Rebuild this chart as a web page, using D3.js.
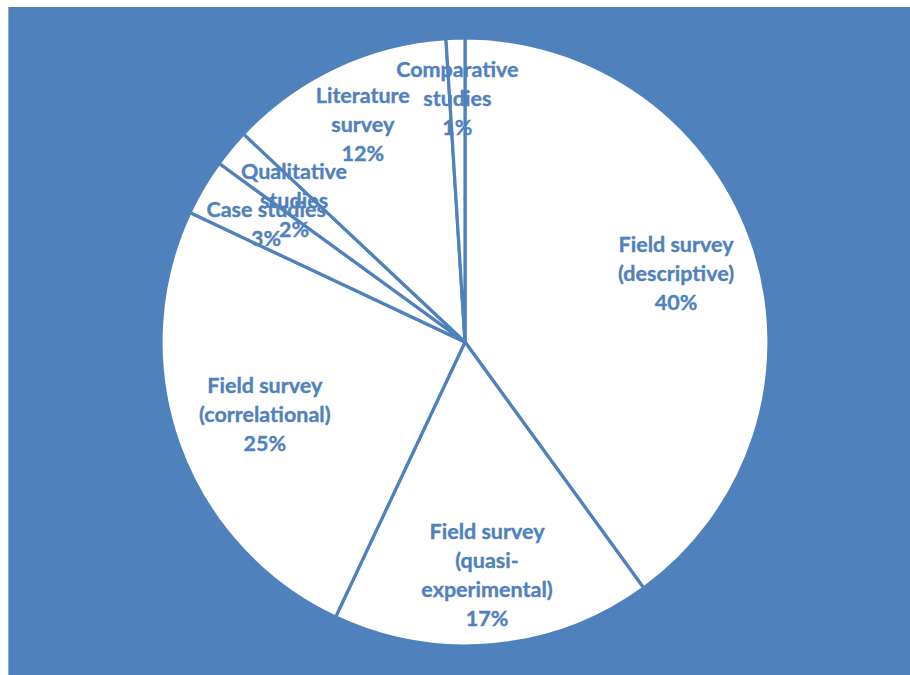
<!DOCTYPE html>
<html>
<head>
<meta charset="utf-8">
<script src="https://cdn.jsdelivr.net/npm/d3@7"></script>
<style>
  html, body { margin: 0; padding: 0; background: #ffffff; }
  svg { display: block; }
  .lbl { font-family: Lato, "Open Sans", sans-serif; font-weight: 700; }
</style>
</head>
<body>
<svg id="chart" width="910" height="675"></svg>
<script>
// Research designs used in the reviewed studies (percent of studies)
const categories = [
  "Field survey (descriptive)",
  "Field survey (quasi-experimental)",
  "Field survey (correlational)",
  "Case studies",
  "Qualitative studies",
  "Literature survey",
  "Comparative studies"
];
const shares = [40, 17, 25, 3, 2, 12, 1];

// Wrapped label lines for each category
const labelLines = [
  ["Field survey", "(descriptive)"],
  ["Field survey", "(quasi-", "experimental)"],
  ["Field survey", "(correlational)"],
  ["Case studies"],
  ["Qualitative", "studies"],
  ["Literature", "survey"],
  ["Comparative", "studies"]
];

// Label distance from the centre, as a fraction of the radius
const labelRadius = [0.73, 0.77, 0.70, 0.76, 0.73, 0.79, 0.80];

const W = 910, H = 675;
const blue = "#4f81bd";
const cx = 465, cy = 342, R = 304;

const svg = d3.select("#chart");

// Plot background
svg.append("rect")
  .attr("x", 8).attr("y", 7)
  .attr("width", W - 8).attr("height", H - 7)
  .attr("fill", blue);
svg.append("line")
  .attr("x1", 8.5).attr("x2", 8.5).attr("y1", 7).attr("y2", H)
  .attr("stroke", "#8fa9cf").attr("stroke-width", 1);

const data = categories.map((c, i) => ({ name: c, value: shares[i], lines: labelLines[i], lr: labelRadius[i] }));

const pie = d3.pie().value(d => d.value).sort(null);
const arcs = pie(data);
const arc = d3.arc().innerRadius(0).outerRadius(R);

const g = svg.append("g").attr("transform", `translate(${cx},${cy})`);

g.selectAll("path.slice")
  .data(arcs)
  .enter().append("path")
  .attr("class", "slice")
  .attr("d", arc)
  .attr("fill", "#ffffff")
  .attr("stroke", blue)
  .attr("stroke-width", 3.2)
  .attr("stroke-linejoin", "round");

const lineH = 29;
g.selectAll("text.lbl")
  .data(arcs)
  .enter().append("text")
  .attr("class", "lbl")
  .attr("text-anchor", "middle")
  .attr("fill", blue)
  .attr("stroke", blue)
  .attr("stroke-width", 0.35)
  .attr("font-size", 21.5)
  .each(function(d) {
    const mid = (d.startAngle + d.endAngle) / 2;
    const r = d.data.lr * R;
    const x = Math.sin(mid) * r;
    const y = -Math.cos(mid) * r;
    const lines = d.data.lines.concat([d.data.value + "%"]);
    const n = lines.length;
    const t = d3.select(this);
    lines.forEach((s, k) => {
      t.append("tspan")
        .attr("x", x)
        .attr("y", y + (k - (n - 1) / 2) * lineH)
        .attr("dy", "0.35em")
        .text(s);
    });
  });
</script>
</body>
</html>
